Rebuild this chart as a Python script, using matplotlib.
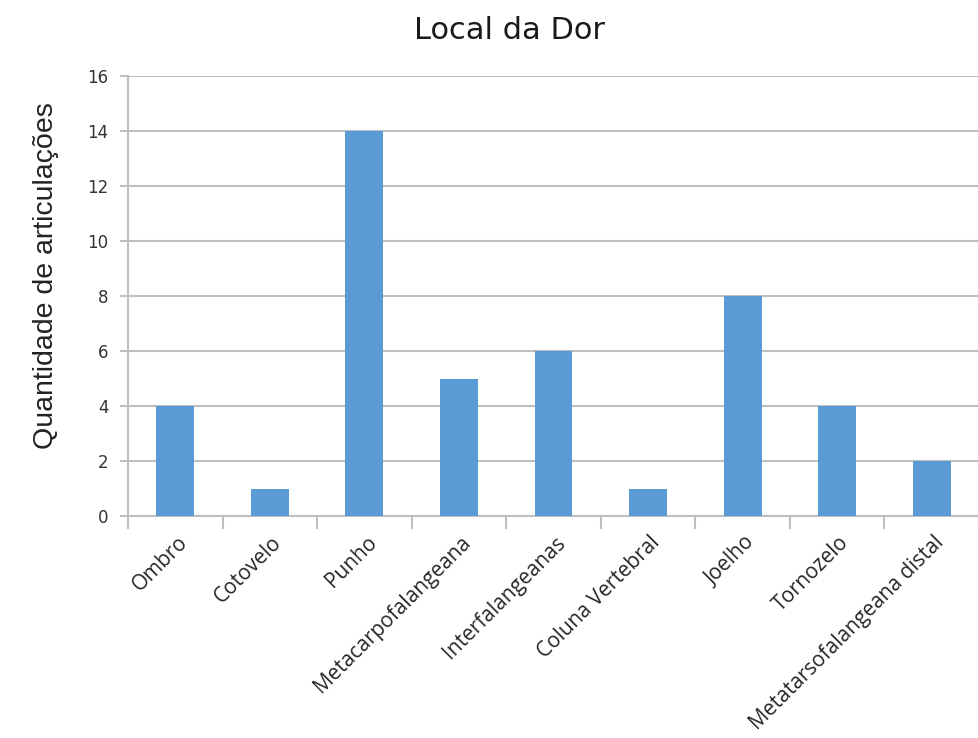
import matplotlib.pyplot as plt
import matplotlib.transforms as mtransforms
import numpy as np

# dados do grafico
locais = ['Ombro', 'Cotovelo', 'Punho', 'Metacarpofalangeana', 'Interfalangeanas',
          'Coluna Vertebral', 'Joelho', 'Tornozelo', 'Metatarsofalangeana distal']
quantidade = [4, 1, 14, 5, 6, 1, 8, 4, 2]
yticks = [0, 2, 4, 6, 8, 10, 12, 14, 16]

cinza = '#BFBFBF'
azul = '#5B9BD5'

fig = plt.figure(figsize=(9.79, 7.38), dpi=100)
ax = fig.add_axes([0.1307, 0.3008, 0.8693, 0.5962])

x = np.arange(len(locais))
ax.bar(x, quantidade, width=0.4, color=azul, zorder=3)

ax.set_xlim(-0.5, len(locais) - 0.5)
ax.set_ylim(0, 16)
ax.set_yticks(yticks)
ax.yaxis.grid(True, color=cinza, linewidth=1.5, zorder=0)
ax.tick_params(axis='y', length=6, width=1.5, color=cinza, pad=8,
               labelsize=12, labelcolor='#333333')

# marcas entre as categorias (estilo Excel)
ax.set_xticks(np.arange(-0.5, len(locais)), minor=True)
ax.tick_params(axis='x', which='minor', length=9, width=1.5, color=cinza)
ax.set_xticks(x)
ax.set_xticklabels(locais, rotation=45, ha='right', va='center',
                   rotation_mode='anchor', fontsize=15, color='#262626',
                   family='Open Sans')
ax.tick_params(axis='x', which='major', length=0, pad=17)
desloc = mtransforms.ScaledTranslation(9 / 100, 0, fig.dpi_scale_trans)
for lbl in ax.get_xticklabels():
    lbl.set_transform(lbl.get_transform() + desloc)

for lado in ['top', 'right']:
    ax.spines[lado].set_visible(False)
for lado in ['left', 'bottom']:
    ax.spines[lado].set_color(cinza)
    ax.spines[lado].set_linewidth(1.5)

fig.text(0.52, 0.958, 'Local da Dor', ha='center', va='center', fontsize=22,
         color='#1a1a1a')
fig.text(0.047, 0.627, 'Quantidade de articulações', rotation=90, ha='center',
         va='center', fontsize=20.5, family='Liberation Sans', color='#222222')

plt.savefig('out.png', dpi=100)
